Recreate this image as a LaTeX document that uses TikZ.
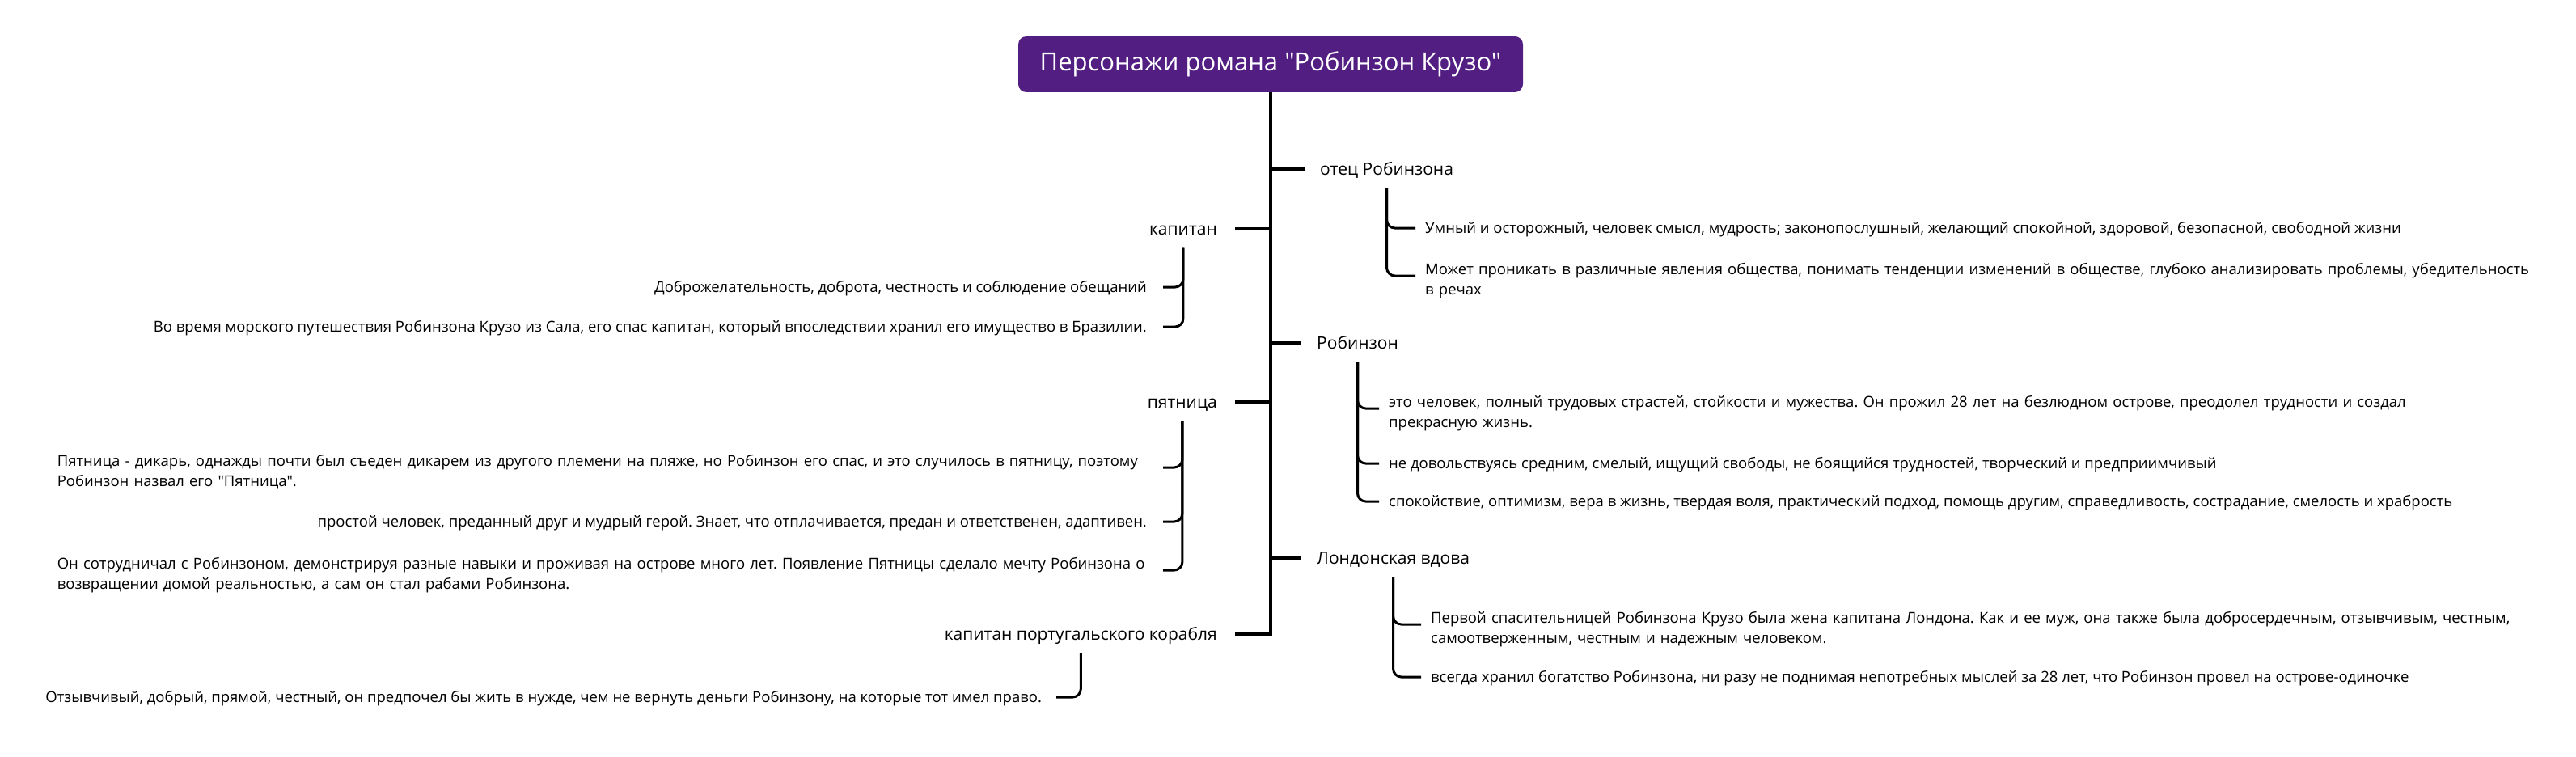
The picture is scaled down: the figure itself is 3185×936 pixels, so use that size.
\documentclass[tikz,border=0pt]{standalone}
\usepackage{fontspec}
\setmainfont{Open Sans}[Ligatures=TeXOff]
\definecolor{rootpurple}{RGB}{83,30,130}
\frenchspacing
\begin{document}
\frenchspacing
\begin{tikzpicture}[x=1pt,y=-1pt,
  root/.style={fill=rootpurple, rounded corners=10pt, text=white,
    font=\fontsize{31}{37}\selectfont, minimum width=624pt, minimum height=69pt, inner sep=0pt},
  topic/.style={inner sep=0pt, text height=15pt, text depth=0pt, font=\fontsize{21}{26}\selectfont},
  leaf/.style={inner sep=0pt, text height=13pt, text depth=0pt, font=\fontsize{18.5}{25}\selectfont},
  leafmulti/.style={inner sep=0pt, text height=13pt, text depth=16pt, font=\fontsize{18.5}{25}\selectfont, align=left},
  trunkline/.style={line width=4pt},
  branchr/.style={line width=4pt, shorten >=19pt},
  branchl/.style={line width=4pt, shorten >=22pt},
  bracketr/.style={line width=3pt, rounded corners=10pt, shorten >=12pt},
  bracketl/.style={line width=3pt, rounded corners=10pt, shorten >=20pt}
]
\useasboundingbox (0,0) rectangle (3185,936);

% root
\node[root] (root) at (1571,79.5) {Персонажи романа "Робинзон Крузо"};

% right topics
\node[topic, anchor=west] (otec) at (1632,209) {отец Робинзона};
\node[topic, anchor=west] (rob) at (1628,424) {Робинзон};
\node[topic, anchor=west] (vdova) at (1628,690) {Лондонская вдова};

% left topics
\node[topic, anchor=east] (kap) at (1505,283) {капитан};
\node[topic, anchor=east] (pyat) at (1505,497) {пятница};
\node[topic, anchor=east] (port) at (1505,784) {капитан португальского корабля};

% right leaves
\node[leaf, anchor=west] (c11) at (1762,282) {Умный и осторожный, человек смысл, мудрость; законопослушный, желающий спокойной, здоровой, безопасной, свободной жизни};
\node[leafmulti, anchor=west, text width=1400pt] (c12) at (1762,341) {Может проникать в различные явления общества, понимать тенденции изменений в обществе, глубоко анализировать проблемы, убедительность\\в речах};

\node[leafmulti, anchor=west, text width=1400pt] (c21) at (1717,505) {это человек, полный трудовых страстей, стойкости и мужества. Он прожил 28 лет на безлюдном острове, преодолел трудности и создал\\прекрасную жизнь.};
\node[leaf, anchor=west] (c22) at (1717,573) {не довольствуясь средним, смелый, ищущий свободы, не боящийся трудностей, творческий и предприимчивый};
\node[leaf, anchor=west] (c23) at (1717,620) {спокойствие, оптимизм, вера в жизнь, твердая воля, практический подход, помощь другим, справедливость, сострадание, смелость и храбрость};

\node[leafmulti, anchor=west, text width=1400pt] (c31) at (1769,772) {Первой спасительницей Робинзона Крузо была жена капитана Лондона. Как и ее муж, она также была добросердечным, отзывчивым, честным,\\самоотверженным, честным и надежным человеком.};
\node[leaf, anchor=west] (c32) at (1769,837) {всегда хранил богатство Робинзона, ни разу не поднимая непотребных мыслей за 28 лет, что Робинзон провел на острове-одиночке};

% left leaves
\node[leaf, anchor=east] (l11) at (1418,355) {Доброжелательность, доброта, честность и соблюдение обещаний};
\node[leaf, anchor=east] (l12) at (1418,404) {Во время морского путешествия Робинзона Крузо из Сала, его спас капитан, который впоследствии хранил его имущество в Бразилии.};

\node[leafmulti, anchor=east, text width=1347pt] (l21) at (1418,578) {Пятница - дикарь, однажды почти был съеден дикарем из другого племени на пляже, но Робинзон его спас, и это случилось в пятницу, поэтому\\Робинзон назвал его "Пятница".};
\node[leaf, anchor=east] (l22) at (1418,645) {простой человек, преданный друг и мудрый герой. Знает, что отплачивается, предан и ответственен, адаптивен.};
\node[leafmulti, anchor=east, text width=1347pt] (l23) at (1418,705) {Он сотрудничал с Робинзоном, демонстрируя разные навыки и проживая на острове много лет. Появление Пятницы сделало мечту Робинзона о\\возвращении домой реальностью, а сам он стал рабами Робинзона.};

\node[leaf, anchor=east] (l31) at (1288,862) {Отзывчивый, добрый, прямой, честный, он предпочел бы жить в нужде, чем не вернуть деньги Робинзону, на которые тот имел право.};

% trunk (ends in the last left branch)
\draw[trunkline, shorten >=22pt] (root.south) -- (root.south |- port.east) -- (port.east);

% trunk branches
\draw[branchr] (root.south |- otec.west) -- (otec.west);
\draw[branchr] (root.south |- rob.west) -- (rob.west);
\draw[branchr] (root.south |- vdova.west) -- (vdova.west);
\draw[branchl] (root.south |- kap.east) -- (kap.east);
\draw[branchl] (root.south |- pyat.east) -- (pyat.east);

% brackets right
\draw[bracketr] ([yshift=-16pt]otec.south) |- (c11.west);
\draw[bracketr] ([yshift=-16pt]otec.south) |- (c12.west);
\draw[bracketr] ([yshift=-16pt]rob.south) |- (c21.west);
\draw[bracketr] ([yshift=-16pt]rob.south) |- (c22.west);
\draw[bracketr] ([yshift=-16pt]rob.south) |- (c23.west);
\draw[bracketr] ([yshift=-16pt]vdova.south) |- (c31.west);
\draw[bracketr] ([yshift=-16pt]vdova.south) |- (c32.west);

% brackets left
\draw[bracketl] ([yshift=-16pt]kap.south) |- (l11.east);
\draw[bracketl] ([yshift=-16pt]kap.south) |- (l12.east);
\draw[bracketl] ([yshift=-16pt]pyat.south) |- (l21.east);
\draw[bracketl] ([yshift=-16pt]pyat.south) |- (l22.east);
\draw[bracketl] ([yshift=-16pt]pyat.south) |- (l23.east);
\draw[bracketl, shorten >=18pt] ([yshift=-16pt]port.south) |- (l31.east);
\end{tikzpicture}
\end{document}
